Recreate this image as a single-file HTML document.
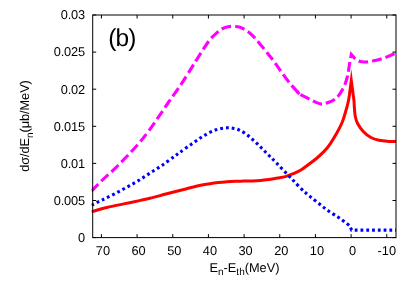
<!DOCTYPE html>
<html><head><meta charset="utf-8"><title>chart</title><style>svg text{text-rendering:geometricPrecision;}html,body{margin:0;padding:0;background:#fff;}body{width:415px;height:291px;overflow:hidden;position:relative;font-family:"Liberation Sans",sans-serif;}</style></head><body>
<svg width="415" height="291" viewBox="0 0 415 291" style="position:absolute;left:0;top:0;will-change:transform">
<rect width="415" height="291" fill="#fff"/>
<defs><clipPath id="c"><rect x="91.50" y="15.00" width="304.50" height="222.60"/></clipPath></defs>
<g clip-path="url(#c)" fill="none">
<path d="M91.50 211.80 C94.07 211.08 101.53 208.82 106.90 207.50 C112.27 206.18 118.08 205.08 123.70 203.90 C129.32 202.72 136.22 201.33 140.60 200.40 C144.98 199.47 145.62 199.40 150.00 198.30 C154.38 197.20 161.28 195.27 166.90 193.80 C172.52 192.33 179.52 190.58 183.70 189.50 C187.88 188.42 189.18 188.00 192.00 187.30 C194.82 186.60 197.60 185.90 200.60 185.30 C203.60 184.70 207.03 184.15 210.00 183.70 C212.97 183.25 215.58 182.92 218.40 182.60 C221.22 182.28 224.08 182.02 226.90 181.80 C229.72 181.58 232.50 181.42 235.30 181.30 C238.10 181.18 240.88 181.17 243.70 181.10 C246.52 181.03 249.38 181.02 252.20 180.90 C255.02 180.78 257.80 180.65 260.60 180.40 C263.40 180.15 266.15 179.78 269.00 179.40 C271.85 179.02 274.95 178.57 277.70 178.10 C280.45 177.63 282.92 177.33 285.50 176.60 C288.08 175.87 290.63 174.80 293.20 173.70 C295.77 172.60 298.33 171.53 300.90 170.00 C303.47 168.47 306.02 166.42 308.60 164.50 C311.18 162.58 313.82 160.68 316.40 158.50 C318.98 156.32 321.80 153.85 324.10 151.40 C326.40 148.95 327.97 147.08 330.20 143.80 C332.43 140.52 335.48 135.33 337.50 131.70 C339.52 128.07 340.87 125.62 342.30 122.00 C343.73 118.38 345.08 113.50 346.10 110.00 C347.12 106.50 347.85 103.50 348.40 101.00 C348.95 98.50 349.23 96.00 349.40 95.00 L351.30 80.50 L353.20 95.00 C353.33 96.00 353.80 98.83 354.00 101.00 C354.20 103.17 354.18 105.42 354.40 108.00 C354.62 110.58 354.77 113.92 355.30 116.50 C355.83 119.08 356.23 120.95 357.60 123.50 C358.97 126.05 361.35 129.52 363.50 131.80 C365.65 134.08 367.92 135.78 370.50 137.20 C373.08 138.62 376.08 139.60 379.00 140.30 C381.92 141.00 385.17 141.20 388.00 141.40 C390.83 141.60 394.67 141.48 396.00 141.50" stroke="#ff0000" stroke-width="3" stroke-linejoin="miter" stroke-miterlimit="10"/>
<path d="M91.50 205.20 C93.25 204.35 98.25 201.93 102.00 200.10 C105.75 198.27 110.00 196.28 114.00 194.20 C118.00 192.12 122.00 189.82 126.00 187.60 C130.00 185.38 134.00 183.32 138.00 180.90 C142.00 178.48 145.95 175.72 150.00 173.10 C154.05 170.48 158.25 167.97 162.30 165.20 C166.35 162.43 171.35 158.67 174.30 156.50 C177.25 154.33 177.05 154.32 180.00 152.20 C182.95 150.08 188.00 146.57 192.00 143.80 C196.00 141.03 200.00 137.93 204.00 135.60 C208.00 133.27 212.17 131.10 216.00 129.80 C219.83 128.50 223.83 127.98 227.00 127.80 C230.17 127.62 232.83 128.27 235.00 128.70 C237.17 129.13 238.17 129.52 240.00 130.40 C241.83 131.28 244.00 132.57 246.00 134.00 C248.00 135.43 250.00 137.27 252.00 139.00 C254.00 140.73 256.00 142.48 258.00 144.40 C260.00 146.32 262.00 148.48 264.00 150.50 C266.00 152.52 268.00 154.50 270.00 156.50 C272.00 158.50 273.58 160.02 276.00 162.50 C278.42 164.98 281.65 168.43 284.50 171.40 C287.35 174.37 290.68 177.77 293.10 180.30 C295.52 182.83 298.02 185.55 299.00 186.60" stroke="#0000ff" stroke-width="3.1" stroke-dasharray="2.80 2.98" stroke-dashoffset="0.05"/>
<path d="M396 230.10 L351.70 230.10 L349.90 226.20 C349.42 225.77 348.23 224.58 347.00 223.60 C345.77 222.62 344.10 221.45 342.50 220.30 C340.90 219.15 339.80 218.30 337.40 216.70 C335.00 215.10 331.13 212.85 328.10 210.70 C325.07 208.55 322.18 206.15 319.20 203.80 C316.22 201.45 312.73 198.67 310.20 196.60 C307.67 194.53 305.87 193.07 304.00 191.40 C302.13 189.73 299.83 187.40 299.00 186.60" stroke="#0000ff" stroke-width="3.1" stroke-dasharray="2.80 2.98" stroke-dashoffset="1.99" stroke-linejoin="miter"/>
<path d="M296.9 91.2 L299.4 94.0" stroke="#ff00ff" stroke-width="3.1"/>
<path d="M91.50 191.00 C93.25 189.23 98.25 184.00 102.00 180.40 C105.75 176.80 110.00 173.25 114.00 169.40 C118.00 165.55 121.97 161.53 126.00 157.30 C130.03 153.07 134.37 148.45 138.20 144.00 C142.03 139.55 144.90 136.15 149.00 130.60 C153.10 125.05 159.63 115.30 162.80 110.70 C165.97 106.10 165.12 107.15 168.00 103.00 C170.88 98.85 176.25 91.53 180.10 85.80 C183.95 80.07 188.22 73.15 191.10 68.60 C193.98 64.05 195.20 61.98 197.40 58.50 C199.60 55.02 202.17 50.90 204.30 47.70 C206.43 44.50 208.22 41.70 210.20 39.30 C212.18 36.90 214.23 35.03 216.20 33.30 C218.17 31.57 220.03 29.98 222.00 28.90 C223.97 27.82 226.08 27.22 228.00 26.80 C229.92 26.38 231.50 26.33 233.50 26.40 C235.50 26.47 237.70 26.40 240.00 27.20 C242.30 28.00 244.80 29.38 247.30 31.20 C249.80 33.02 252.12 35.03 255.00 38.10 C257.88 41.17 261.57 45.88 264.60 49.60 C267.63 53.32 270.50 56.80 273.20 60.40 C275.90 64.00 278.12 67.50 280.80 71.20 C283.48 74.90 286.20 78.80 289.30 82.60 C292.40 86.40 297.72 92.10 299.40 94.00" stroke="#ff00ff" stroke-width="3.1" stroke-dasharray="9.80 4.13" stroke-dashoffset="0.10"/>
<path d="M299.40 94.00 C301.15 94.90 307.13 98.00 309.90 99.40 C312.67 100.80 314.05 101.62 316.00 102.40 C317.95 103.18 319.80 104.00 321.60 104.10 C323.40 104.20 324.65 103.75 326.80 103.00 C328.95 102.25 332.30 101.17 334.50 99.60 C336.70 98.03 338.33 95.95 340.00 93.60 C341.67 91.25 343.28 88.27 344.50 85.50 C345.72 82.73 346.62 79.58 347.30 77.00 C347.98 74.42 348.17 72.50 348.60 70.00 C349.03 67.50 349.68 63.33 349.90 62.00 L351.30 54.50 L355.10 58.80 C355.58 59.13 356.85 60.30 358.00 60.80 C359.15 61.30 360.50 61.60 362.00 61.80 C363.50 62.00 364.83 62.20 367.00 62.00 C369.17 61.80 372.50 61.15 375.00 60.60 C377.50 60.05 379.50 59.53 382.00 58.70 C384.50 57.87 387.67 56.55 390.00 55.60 C392.33 54.65 395.00 53.43 396.00 53.00" stroke="#ff00ff" stroke-width="3.1" stroke-dasharray="9.90 4.00 9.70 4.00 9.70 4.00 9.70 4.00 9.70 4.00 9.70 4.00 9.70 4.00 9.70 4.00 9.70 4.00 9.70 4.00 9.70 4.00 9.70 4.00 9.70 4.00 9.70 4.00 9.70 4.00" stroke-dashoffset="-1.3" stroke-linejoin="miter" stroke-miterlimit="10"/>
</g>
<g stroke="#000" stroke-width="1" fill="none">
<rect x="92.70" y="15.00" width="303.30" height="222.60"/>
<path d="M101.41 237.60v-3.50 M101.41 15.00v3.50"/>
<path d="M137.08 237.60v-3.50 M137.08 15.00v3.50"/>
<path d="M172.75 237.60v-3.50 M172.75 15.00v3.50"/>
<path d="M208.42 237.60v-3.50 M208.42 15.00v3.50"/>
<path d="M244.09 237.60v-3.50 M244.09 15.00v3.50"/>
<path d="M279.76 237.60v-3.50 M279.76 15.00v3.50"/>
<path d="M315.43 237.60v-3.50 M315.43 15.00v3.50"/>
<path d="M351.10 237.60v-3.50 M351.10 15.00v3.50"/>
<path d="M386.77 237.60v-3.50 M386.77 15.00v3.50"/>
<path d="M92.70 237.60h3.50 M396.00 237.60h-3.50"/>
<path d="M92.70 200.50h3.50 M396.00 200.50h-3.50"/>
<path d="M92.70 163.40h3.50 M396.00 163.40h-3.50"/>
<path d="M92.70 126.30h3.50 M396.00 126.30h-3.50"/>
<path d="M92.70 89.20h3.50 M396.00 89.20h-3.50"/>
<path d="M92.70 52.10h3.50 M396.00 52.10h-3.50"/>
<path d="M92.70 15.00h3.50 M396.00 15.00h-3.50"/>
</g>
<g font-family="Liberation Sans, sans-serif" font-size="12.8" fill="#000">
<text x="85.0" y="241.90" text-anchor="end" letter-spacing="-0.15">0</text>
<text x="85.0" y="204.80" text-anchor="end" letter-spacing="-0.15">0.005</text>
<text x="85.0" y="167.70" text-anchor="end" letter-spacing="-0.15">0.01</text>
<text x="85.0" y="130.60" text-anchor="end" letter-spacing="-0.15">0.015</text>
<text x="85.0" y="93.50" text-anchor="end" letter-spacing="-0.15">0.02</text>
<text x="85.0" y="56.40" text-anchor="end" letter-spacing="-0.15">0.025</text>
<text x="85.0" y="19.30" text-anchor="end" letter-spacing="-0.15">0.03</text>
<text x="102.91" y="254.7" text-anchor="middle">70</text>
<text x="138.58" y="254.7" text-anchor="middle">60</text>
<text x="174.25" y="254.7" text-anchor="middle">50</text>
<text x="209.92" y="254.7" text-anchor="middle">40</text>
<text x="245.59" y="254.7" text-anchor="middle">30</text>
<text x="281.26" y="254.7" text-anchor="middle">20</text>
<text x="316.93" y="254.7" text-anchor="middle">10</text>
<text x="352.60" y="254.7" text-anchor="middle">0</text>
<text x="386.77" y="254.7" text-anchor="middle">-10</text>
<text x="244.5" y="271.9" text-anchor="middle">E<tspan font-size="10" dy="3.5">n</tspan><tspan dy="-3.5">-E</tspan><tspan font-size="10" dy="3.5">th</tspan><tspan dy="-3.5">(MeV)</tspan></text>
<text transform="translate(29.4,126.0) rotate(-90)" text-anchor="middle" letter-spacing="-0.08">dσ/dE<tspan font-size="10" dy="3.5">n</tspan><tspan dy="-3.5">(μb/MeV)</tspan></text>
<text x="108.15" y="45.7" font-size="24.4" letter-spacing="-0.75">(b)</text>
</g>
</svg>
</body></html>
